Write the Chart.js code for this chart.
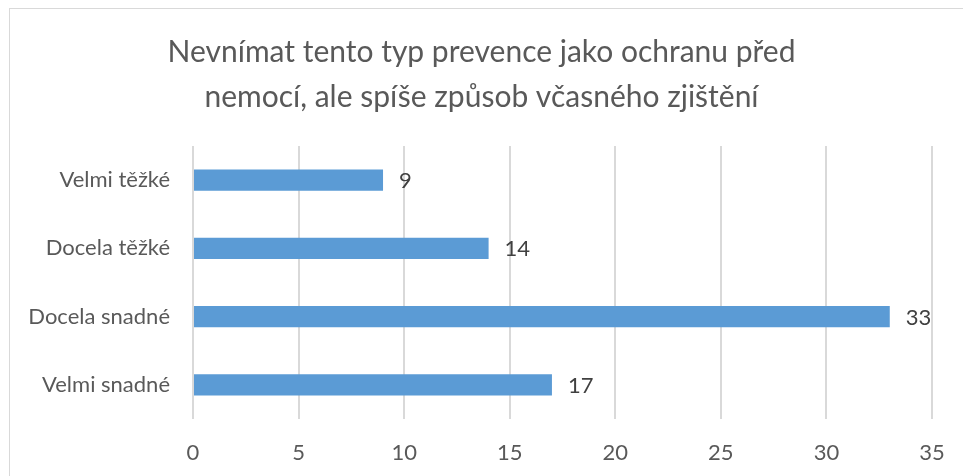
<!DOCTYPE html>
<html><head><meta charset="utf-8">
<script src="https://cdn.jsdelivr.net/npm/chart.js@4/dist/chart.umd.min.js"></script>
<style>
html,body{margin:0;padding:0;background:#fff;overflow:hidden;}
#wrap{position:relative;width:963px;height:476px;}
#frame{position:absolute;left:9px;top:8px;width:1000px;height:500px;border:1px solid #d9d9d9;pointer-events:none;}
canvas{position:absolute;left:0;top:0;}
</style></head><body>
<div id="wrap"><canvas id="c" width="963" height="476"></canvas><div id="frame"></div></div>
<script>
const titleLines = ["Nevnímat tento typ prevence jako ochranu před", "nemocí, ale spíše způsob včasného zjištění"];
const categories = ["Velmi těžké", "Docela těžké", "Docela snadné", "Velmi snadné"];
const values = [9, 14, 33, 17];
const xMin = 0, xMax = 35, xStep = 5;

const FONT = "Lato, 'Liberation Sans', sans-serif";

const dataLabels = {
  id: 'dataLabels',
  afterDatasetsDraw(chart) {
    const ctx = chart.ctx;
    const meta = chart.getDatasetMeta(0);
    ctx.save();
    ctx.font = "22px " + FONT;
    ctx.fillStyle = "#404040";
    ctx.textAlign = "left";
    ctx.textBaseline = "middle";
    meta.data.forEach((bar, i) => {
      ctx.fillText(String(chart.data.datasets[0].data[i]), bar.x + 16, bar.y + 1);
    });
    ctx.restore();
  }
};

new Chart(document.getElementById('c'), {
  type: 'bar',
  data: {
    labels: categories,
    datasets: [{
      data: values,
      backgroundColor: '#5B9BD5',
      borderWidth: 0,
      barPercentage: 0.62,
      categoryPercentage: 0.5
    }]
  },
  options: {
    indexAxis: 'y',
    responsive: false,
    animation: false,
    devicePixelRatio: 1,
    layout: { padding: { left: 0, right: 0, top: 0, bottom: 0 } },
    plugins: {
      legend: { display: false },
      tooltip: { enabled: false },
      title: {
        display: true,
        text: titleLines,
        color: '#595959',
        font: { family: FONT, size: 30, weight: 'normal', lineHeight: 1.5 },
        padding: { top: 30, bottom: 26 }
      }
    },
    scales: {
      x: {
        min: xMin, max: xMax,
        ticks: { stepSize: xStep, color: '#595959', font: { family: FONT, size: 22 }, padding: 21 },
        grid: { color: '#d9d9d9', lineWidth: 2, drawTicks: false },
        border: { display: false },
        afterFit(scale) { scale.height = 57; scale.paddingRight = 31; scale.paddingLeft = 0; }
      },
      y: {
        ticks: { color: '#595959', font: { family: FONT, size: 22 }, padding: 23 },
        grid: { display: false, drawTicks: false },
        border: { display: false },
        afterFit(scale) { scale.width = 193; }
      }
    }
  },
  plugins: [dataLabels]
});
</script>
</body></html>
